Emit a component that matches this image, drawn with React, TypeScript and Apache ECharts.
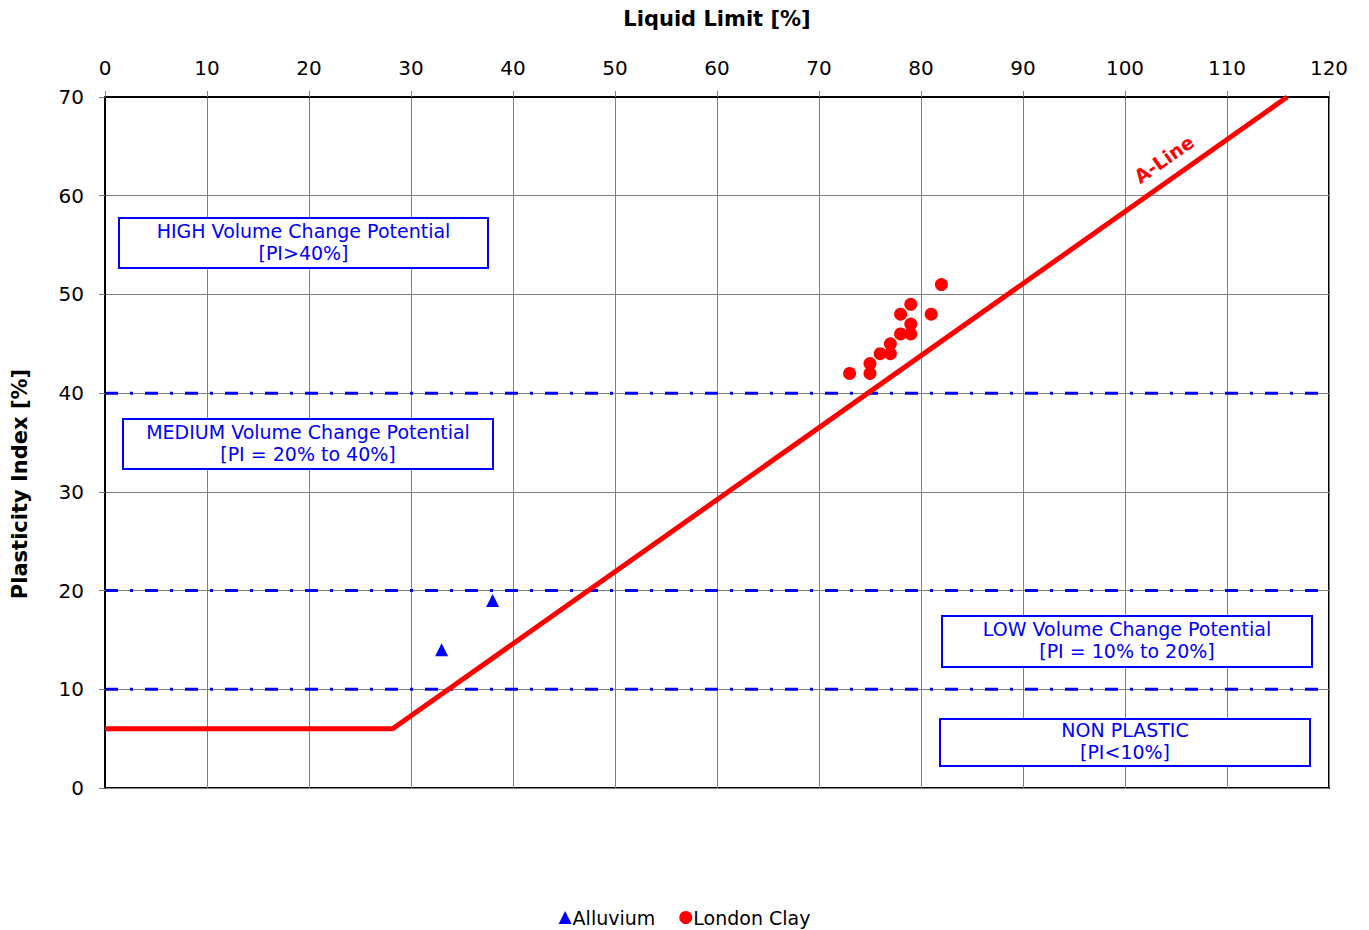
import React, { useEffect, useRef } from "react";
import * as echarts from "echarts";

const xTickMin = 0;
const xTickMax = 120;
const yTickMin = 0;
const yTickMax = 70;
const tickStep = 10;

const alluviumLL = [33, 38];
const alluviumPI = [14, 19];

const londonClayLL = [82, 79, 78, 81, 79, 78, 79, 77, 76, 77, 75, 75, 73];
const londonClayPI = [51, 49, 48, 48, 47, 46, 46, 45, 44, 44, 43, 42, 42];

const aLineLL = [0, 28.2, 115.9];
const aLinePI = [6, 6, 70];

const thresholdPI = [10, 20, 40];

const zoneLines = [
  ["HIGH Volume Change Potential", "[PI>40%]"],
  ["MEDIUM Volume Change Potential", "[PI = 20% to 40%]"],
  ["LOW Volume Change Potential", "[PI = 10% to 20%]"],
  ["NON PLASTIC", "[PI<10%]"],
];

const FONT = "DejaVu Sans, Verdana, sans-serif";
const BLUE = "#0000FF";
const RED = "#FF0000";

export default function App() {
  const ref = useRef<HTMLDivElement>(null);

  useEffect(() => {
    if (!ref.current) return;
    const chart = echarts.init(ref.current, undefined, { renderer: "svg" });

    const boxes = [
      { x: 119, y: 218, w: 369, h: 50 },
      { x: 123, y: 419, w: 370, h: 50 },
      { x: 942, y: 616, w: 370, h: 51 },
      { x: 940, y: 719, w: 370, h: 47 },
    ];

    const graphics: any[] = [];
    boxes.forEach((b, i) => {
      graphics.push({
        type: "rect",
        z: 100,
        shape: { x: b.x, y: b.y, width: b.w, height: b.h },
        style: { fill: "#ffffff", stroke: BLUE, lineWidth: 2 },
      });
      graphics.push({
        type: "text",
        z: 101,
        x: b.x + b.w / 2,
        y: b.y + b.h / 2 - 1.5,
        style: {
          text: zoneLines[i].join("\n"),
          fill: BLUE,
          font: `19px ${FONT}`,
          align: "center",
          verticalAlign: "middle",
          lineHeight: 22,
        },
      });
    });

    graphics.push({
      type: "text",
      x: 1164,
      y: 159,
      rotation: (35 * Math.PI) / 180,
      z: 100,
      style: {
        text: "A-Line",
        fill: RED,
        font: `bold 19px ${FONT}`,
        align: "center",
        verticalAlign: "middle",
      },
    });

    graphics.push({
      type: "text",
      x: 20,
      y: 484,
      rotation: Math.PI / 2,
      z: 100,
      style: {
        text: "Plasticity Index [%]",
        fill: "#000",
        font: `bold 21px ${FONT}`,
        align: "center",
        verticalAlign: "middle",
      },
    });

    const thresholdSeries = thresholdPI.map((v) => ({
      name: "t" + v,
      type: "line",
      data: [
        [xTickMin, v],
        [xTickMax, v],
      ],
      symbol: "none",
      silent: true,
      z: 3,
      lineStyle: { color: BLUE, width: 3, type: [13, 12, 3, 12] },
    }));

    chart.setOption({
      animation: false,
      textStyle: { fontFamily: FONT },
      grid: {
        left: 105,
        right: 40,
        top: 97,
        bottom: 142,
        show: true,
        borderColor: "#000",
        borderWidth: 2,
        backgroundColor: "transparent",
      },
      xAxis: {
        type: "value",
        position: "top",
        min: xTickMin,
        max: xTickMax,
        interval: tickStep,
        name: "Liquid Limit [%]",
        nameLocation: "middle",
        nameGap: 68,
        nameTextStyle: { fontFamily: FONT, fontSize: 21, fontWeight: "bold", color: "#000" },
        axisLine: { show: true, onZero: false, lineStyle: { color: "#000", width: 2 } },
        axisTick: { show: true, inside: false, length: 6, lineStyle: { color: "#808080" } },
        axisLabel: { fontFamily: FONT, fontSize: 20, color: "#000", margin: 19 },
        splitLine: { show: true, lineStyle: { color: "#808080", width: 1 } },
      },
      yAxis: {
        type: "value",
        min: yTickMin,
        max: yTickMax,
        interval: tickStep,
        axisLine: { show: true, onZero: false, lineStyle: { color: "#000", width: 2 } },
        axisTick: { show: true, inside: false, length: 6, lineStyle: { color: "#808080" } },
        axisLabel: { fontFamily: FONT, fontSize: 20, color: "#000", margin: 21 },
        splitLine: { show: true, lineStyle: { color: "#808080", width: 1 } },
      },
      legend: {
        top: 903,
        left: "center",
        data: ["Alluvium", "London Clay"],
        itemWidth: 13,
        itemHeight: 13,
        itemGap: 24,
        textStyle: { fontFamily: FONT, fontSize: 19, color: "#000", padding: [0, 0, 0, -4] },
      },
      graphic: graphics,
      series: [
        ...thresholdSeries,
        {
          name: "A-Line",
          type: "line",
          data: aLineLL.map((x, i) => [x, aLinePI[i]]),
          symbol: "none",
          silent: true,
          z: 4,
          lineStyle: { color: RED, width: 5 },
        },
        {
          name: "Alluvium",
          type: "scatter",
          symbol: "triangle",
          symbolSize: 13,
          z: 5,
          itemStyle: { color: BLUE, opacity: 1 },
          data: alluviumLL.map((x, i) => [x, alluviumPI[i]]),
        },
        {
          name: "London Clay",
          type: "scatter",
          symbol: "circle",
          symbolSize: 13,
          z: 5,
          itemStyle: { color: RED, opacity: 1 },
          data: londonClayLL.map((x, i) => [x, londonClayPI[i]]),
        },
      ],
    });

    return () => chart.dispose();
  }, []);

  return (
    <div
      ref={ref}
      style={{ position: "fixed", left: 0, top: 0, width: 1369, height: 930, background: "#fff" }}
    />
  );
}
